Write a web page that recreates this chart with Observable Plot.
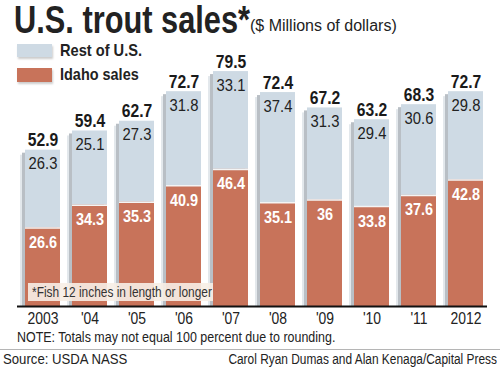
<!DOCTYPE html>
<html><head><meta charset="utf-8">
<script src="https://cdn.jsdelivr.net/npm/d3@7"></script>
<script src="https://cdn.jsdelivr.net/npm/@observablehq/plot@0.6"></script>
<style>
html,body{margin:0;padding:0;background:#fff;}
#wrap{position:relative;width:500px;height:369px;overflow:hidden;font-family:"Liberation Sans",Arial,sans-serif;color:#222;}
#wrap svg{position:absolute;left:0;top:0;}
.t{position:absolute;white-space:nowrap;line-height:1;}
</style></head><body><div id="wrap"></div>
<script>
const years = ["2003","2004","2005","2006","2007","2008","2009","2010","2011","2012"];
const yearLabels = ["2003","'04","'05","'06","'07","'08","'09","'10","'11","2012"];
const idaho = [26.6,34.3,35.3,40.9,46.4,35.1,36,33.8,37.6,42.8];
const rest = [26.3,25.1,27.3,31.8,33.1,37.4,31.3,29.4,30.6,29.8];
const totals = [52.9,59.4,62.7,72.7,79.5,72.4,67.2,63.2,68.3,72.7];
const legendLabels = ["Rest of U.S.","Idaho sales"];
const colors = {rest:"#cedae4", idaho:"#c8735a"};

const table = years.map((year,i)=>({year,label:yearLabels[i],idaho:idaho[i],rest:rest[i],total:totals[i]}));
const font = '"Liberation Sans",Arial,sans-serif';

const chart = Plot.plot({
  width:500, height:335, marginLeft:17, marginRight:13, marginTop:0, marginBottom:0,
  x:{domain:years, range:[19.3,488.5], paddingInner:0.258, paddingOuter:0.1, axis:null},
  y:{domain:[0,80], range:[306, 306-80*2.955], axis:null},
  style:{fontFamily:font, background:"transparent", overflow:"visible"},
  marks:[
    Plot.barY(table,{x:"year",y1:0,y2:"total",dx:-5,insetTop:5,fill:"#e3e8ec"}),
    Plot.barY(table,{x:"year",y1:0,y2:"total",dx:-3,insetTop:3,fill:"#b9bfc5"}),
    Plot.barY(table,{x:"year",y1:"idaho",y2:"total",fill:colors.rest}),
    Plot.barY(table,{x:"year",y1:0,y2:"idaho",fill:colors.idaho}),
    Plot.tickY(table,{x:"year",y:"idaho",stroke:"#f4f4f4",strokeWidth:1.5}),
    Plot.ruleY([0],{stroke:"#111",strokeWidth:2}),
    Plot.text(table,{x:"year",y:"total",text:"total",dy:-4,lineAnchor:"bottom",fontSize:18,fontWeight:"bold",fill:"#1a1a1a"}),
    Plot.text(table,{x:"year",y:"total",text:"rest",lineAnchor:"top",dy:7,fontSize:17,fill:"#222"}),
    Plot.text(table,{x:"year",y:"idaho",text:"idaho",lineAnchor:"top",dy:8,fontSize:17,fontWeight:"bold",fill:"#fff"}),
    Plot.text(table,{x:"year",y:0,text:"label",lineAnchor:"top",dy:5,fontSize:17,fill:"#222"})
  ]
});
// condense the chart's text (the original uses a condensed face)
const textScales = [0.87, 0.87, 0.85, 0.82];
chart.querySelectorAll('g[aria-label="text"]').forEach((g,i)=>{
  const s = textScales[i] ?? 0.85;
  g.querySelectorAll("text").forEach(t=>{
    t.setAttribute("transform", (t.getAttribute("transform")||"") + ` scale(${s},1)`);
  });
});
const wrap = document.getElementById("wrap");
wrap.appendChild(chart);

function box(x,y,w,h,bg,extra){
  const d=document.createElement("div");
  d.style.cssText=`position:absolute;left:${x}px;top:${y}px;width:${w}px;height:${h}px;background:${bg};${extra||""}`;
  wrap.appendChild(d); return d;
}
function place(txt,x,base,fs,weight,scale,anchor,color){
  const d=document.createElement("div");
  d.className="t";
  d.textContent=txt;
  d.style.fontSize=fs+"px";
  d.style.fontWeight=weight||"normal";
  d.style.fontFamily=font;
  d.style.top=(base-0.8465*fs)+"px";
  d.style.color=color||"#222";
  if(anchor==="end"){ d.style.right=(500-x)+"px"; d.style.transformOrigin="right center"; }
  else { d.style.left=x+"px"; d.style.transformOrigin="left center"; }
  d.style.transform=`scaleX(${scale||1})`;
  wrap.appendChild(d); return d;
}
// title
place("U.S. trout sales*",14,33,38,"bold",0.81);
place("($ Millions of dollars)",250,32,16,"normal",1);
// legend
box(17,44,35,13,colors.rest,"box-shadow:1px 2px 2px #ccc;");
box(17,68,35,14,colors.idaho,"box-shadow:1px 2px 2px #ccc;");
place(legendLabels[0],60,56,17,"bold",0.86);
place(legendLabels[1],60,80,17,"bold",0.85);
// footnote box
box(28,283,185,18,"rgba(247,238,230,0.9)");
place("*Fish 12 inches in length or longer",32,297,14,"normal",0.85,null,"#333");
// note
place("NOTE: Totals may not equal 100 percent due to rounding.",17,342,14,"normal",0.89);
box(0,349,500,1,"#b5b5b5");
place("Source: USDA NASS",3,364,14,"normal",0.94);
place("Carol Ryan Dumas and Alan Kenaga/Capital Press",497,364,14,"normal",0.85,"end");
</script></body></html>
